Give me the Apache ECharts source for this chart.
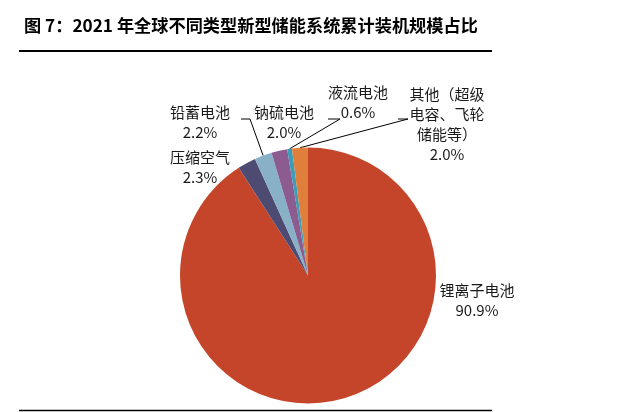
<!DOCTYPE html>
<html><head><meta charset="utf-8">
<script src="https://cdn.jsdelivr.net/npm/echarts@6/dist/echarts.min.js"></script>
<style>html,body{margin:0;padding:0;background:#fff}#c{width:632px;height:412px}</style>
</head><body><div id="c"></div>
<script>
const categories = ['锂离子电池', '压缩空气', '铅蓄电池', '钠硫电池', '液流电池', '其他（超级\n电容、飞轮\n储能等）'];
const values = [90.9, 2.3, 2.2, 2.0, 0.6, 2.0];
const colors = ['#C5452A', '#4E4B72', '#88B0C7', '#8C5B8F', '#3C9DB6', '#E07F3B'];

// label placement (text block centre, leader elbow/end) by slice index
const labelSpots = [
  {x: 477, y: 300},
  {x: 200, y: 167},
  {x: 200, y: 122, elbow: [250, 119], end: [241, 119]},
  {x: 284, y: 122},
  {x: 358, y: 102, elbow: [340, 119], end: [328, 119]},
  {x: 447, y: 124, elbow: [408, 119], end: [398, 119]}
];

const chart = echarts.init(document.getElementById('c'));
const font = '"Noto Sans CJK SC", "Noto Sans", sans-serif';
chart.setOption({
  animation: false,
  title: {
    text: '图 7：2021 年全球不同类型新型储能系统累计装机规模占比',
    left: 19, top: 12,
    textStyle: {fontFamily: font, fontSize: 17.2, fontWeight: 'bold', color: '#000'}
  },
  graphic: [
    {type: 'line', shape: {x1: 19, y1: 51, x2: 492, y2: 51}, style: {stroke: '#000', lineWidth: 2}},
    {type: 'line', shape: {x1: 19, y1: 410.5, x2: 492, y2: 410.5}, style: {stroke: '#000', lineWidth: 1.5}}
  ],
  series: [{
    type: 'pie',
    center: [308, 275.5],
    radius: 128,
    startAngle: 90,
    clockwise: true,
    avoidLabelOverlap: false,
    itemStyle: {borderWidth: 0},
    emphasis: {disabled: true},
    label: {
      show: true,
      position: 'outside',
      fontFamily: font,
      fontSize: 15,
      lineHeight: 20,
      color: '#1a1a1a',
      align: 'center',
      formatter: p => p.name + '\n' + p.value.toFixed(1) + '%'
    },
    labelLine: {show: true, length: 10, length2: 10, lineStyle: {color: '#000', width: 1}},
    labelLayout: function (params) {
      const s = labelSpots[params.dataIndex];
      const out = {x: s.x, y: s.y, align: 'center', verticalAlign: 'middle'};
      if (s.elbow && params.labelLinePoints) {
        const p0 = params.labelLinePoints[0];
        out.labelLinePoints = [p0, s.elbow, s.end];
      } else {
        out.labelLinePoints = null;
      }
      return out;
    },
    data: categories.map((c, i) => ({
      name: c, value: values[i],
      itemStyle: {color: colors[i]},
      labelLine: {show: !!labelSpots[i].elbow}
    }))
  }]
});
</script></body></html>
